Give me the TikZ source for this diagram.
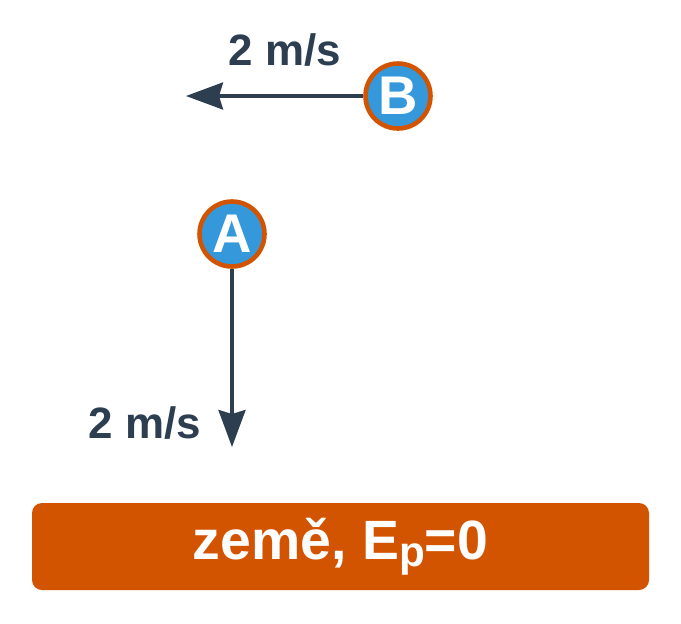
\documentclass[tikz,border=0pt]{standalone}
\usepackage{fontspec}
\setmainfont{Liberation Sans}
\usetikzlibrary{arrows.meta, positioning}
\definecolor{darkslate}{HTML}{2C3E50}
\definecolor{ballblue}{HTML}{3498DB}
\definecolor{groundorange}{HTML}{D35400}

\begin{document}
\begin{tikzpicture}[
    ball/.style={draw=groundorange, line width=2.6pt, circle, fill=ballblue, minimum size=1.3cm, inner sep=0pt, text=white, font=\fontsize{31}{31}\selectfont\bfseries},
    speed/.style={text=darkslate, font=\fontsize{25}{25}\selectfont\bfseries, anchor=base},
    velocity/.style={draw=darkslate, line width=1.9pt, -{Stealth[length=0.74cm, width=0.54cm, inset=0.08cm]}}
]
    \useasboundingbox (0,0) rectangle (13.62,-12.46);

    % Ball B moving left
    \node[ball] (BallB) at (7.96,-1.92) {B};
    \coordinate (TipB) at (3.72,-1.92);
    \node[speed] (SpeedB) at (5.70,-1.30) {2 m/s};

    % Ball A falling down
    \node[ball] (BallA) at (4.64,-4.68) {A};
    \coordinate (TipA) at (4.64,-8.94);
    \node[speed] (SpeedA) at (2.90,-8.76) {2 m/s};

    % Ground
    \node[fill=groundorange, rounded corners=0.2cm, minimum width=12.34cm, minimum height=1.74cm, text=white, font=\fontsize{31.5}{31.5}\selectfont\bfseries] (Ground) at (6.81,-10.93) {země, E\raisebox{-0.13em}{\fontsize{24}{24}\selectfont p}=0};

    % Arrows
    \draw[velocity] (BallB) -- (TipB);
    \draw[velocity] (BallA) -- (TipA);
\end{tikzpicture}
\end{document}
